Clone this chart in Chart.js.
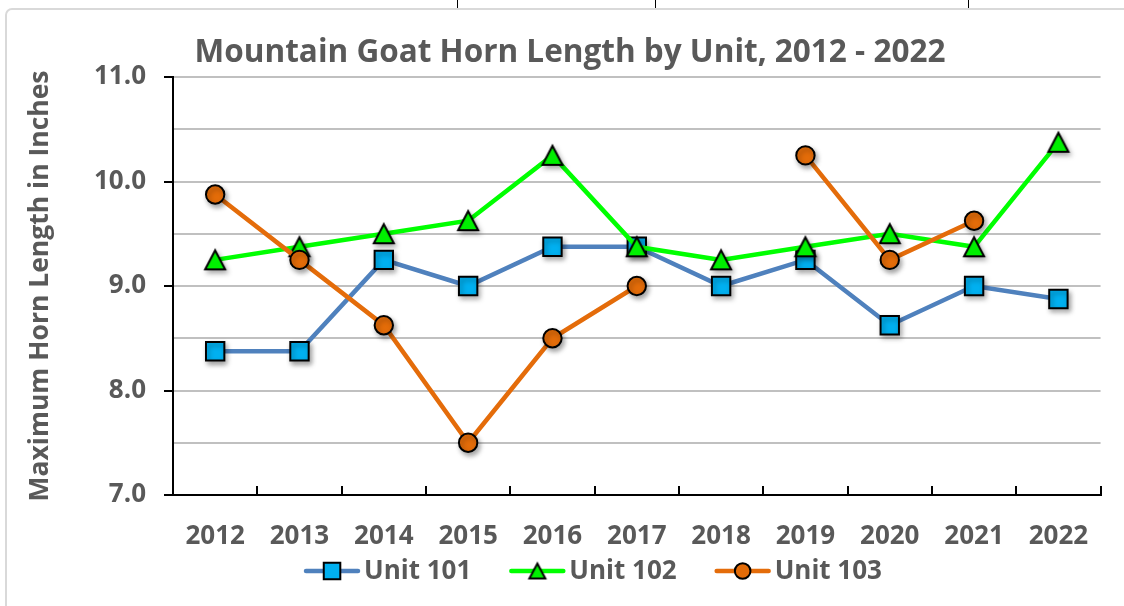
<!DOCTYPE html>
<html><head><meta charset="utf-8">
<script src="https://cdn.jsdelivr.net/npm/chart.js@4/dist/chart.umd.min.js"></script>
<style>html,body{margin:0;padding:0;background:#fff;overflow:hidden}</style>
</head><body>
<canvas id="c" width="1124" height="606"></canvas>
<script>
const chartTitle = 'Mountain Goat Horn Length by Unit, 2012 - 2022';
const yAxisTitle = 'Maximum Horn Length in Inches';
const years = ['2012','2013','2014','2015','2016','2017','2018','2019','2020','2021','2022'];
const seriesNames = ['Unit 101','Unit 102','Unit 103'];
const unit101 = [8.375, 8.375, 9.25, 9.0, 9.375, 9.375, 9.0, 9.25, 8.625, 9.0, 8.875];
const unit102 = [9.25, 9.375, 9.5, 9.625, 10.25, 9.375, 9.25, 9.375, 9.5, 9.375, 10.375];
const unit103 = [9.875, 9.25, 8.625, 7.5, 8.5, 9.0, null, 10.25, 9.25, 9.625, null];
const yMin = 7, yMax = 11, yStep = 0.5;

const FONT = '"Open Sans"';
const GREY = '#595959';

function triangleMarker(w, h, fill) {
  const c = document.createElement('canvas');
  c.width = Math.ceil(w + 4); c.height = Math.ceil(h + 4);
  const g = c.getContext('2d');
  const cx = c.width / 2, cy = c.height / 2;
  g.beginPath();
  g.moveTo(cx, cy - h / 2 + 1);
  g.lineTo(cx + w / 2 - 1, cy + h / 2 - 1);
  g.lineTo(cx - w / 2 + 1, cy + h / 2 - 1);
  g.closePath();
  g.fillStyle = fill; g.fill();
  g.lineJoin = 'miter'; g.lineWidth = 2; g.strokeStyle = '#000'; g.stroke();
  return c;
}
const triPlot = triangleMarker(22, 21, '#00F000');
const triLegend = triangleMarker(18, 17, '#00F000');

// drop shadow on markers only
const origPointDraw = Chart.PointElement.prototype.draw;
Chart.PointElement.prototype.draw = function(ctx, area) {
  ctx.save();
  ctx.shadowColor = 'rgba(0,0,0,0.35)';
  ctx.shadowBlur = 5;
  ctx.shadowOffsetX = 2;
  ctx.shadowOffsetY = 3;
  origPointDraw.call(this, ctx, area);
  ctx.restore();
};

const legendRadius = { rect: 11.7, circle: 7.8 };

const decor = {
  id: 'decor',
  beforeDraw(chart) {
    const ctx = chart.ctx;
    ctx.save();
    ctx.fillStyle = '#fff';
    ctx.fillRect(0, 0, chart.width, chart.height);
    ctx.strokeStyle = '#d9d9d9';
    ctx.lineWidth = 2;
    ctx.beginPath();
    if (ctx.roundRect) ctx.roundRect(6, 9, 1160, 640, 6); else ctx.rect(6, 9, 1160, 640);
    ctx.stroke();
    ctx.strokeStyle = '#000';
    ctx.lineWidth = 1;
    [457, 655, 968].forEach(x => { ctx.beginPath(); ctx.moveTo(x + 0.5, 0); ctx.lineTo(x + 0.5, 8); ctx.stroke(); });
    ctx.restore();
  },
  afterDraw(chart) {
    const ctx = chart.ctx;
    ctx.save();
    // title
    ctx.fillStyle = GREY;
    ctx.font = 'bold 31.5px ' + FONT;
    ctx.textAlign = 'center';
    ctx.textBaseline = 'alphabetic';
    ctx.fillText(chartTitle, 570, 62);
    // legend
    ctx.font = 'bold 26px ' + FONT;
    const lineLen = 56, gapText = 4, gapItem = 38;
    const widths = seriesNames.map(n => ctx.measureText(n).width);
    const total = widths.reduce((a, w) => a + lineLen + gapText + w, 0) + gapItem * (seriesNames.length - 1);
    let x = 593 - total / 2;
    const y = 571;
    chart.data.datasets.forEach((ds, i) => {
      ctx.strokeStyle = ds.borderColor;
      ctx.lineWidth = ds.borderWidth;
      ctx.lineCap = 'round';
      ctx.beginPath(); ctx.moveTo(x + 2, y); ctx.lineTo(x + lineLen - 2, y); ctx.stroke();
      ctx.fillStyle = ds.pointBackgroundColor;
      ctx.strokeStyle = ds.pointBorderColor;
      ctx.lineWidth = ds.pointBorderWidth;
      const style = ds.pointStyle === triPlot ? triLegend : ds.pointStyle;
      const r = legendRadius[ds.pointStyle] || 9;
      Chart.helpers.drawPoint(ctx, {pointStyle: style, rotation: 0, radius: r, borderWidth: ds.pointBorderWidth}, x + lineLen / 2, y);
      ctx.fillStyle = GREY;
      ctx.textAlign = 'left';
      ctx.textBaseline = 'middle';
      ctx.fillText(seriesNames[i], x + lineLen + gapText, y + 1);
      x += lineLen + gapText + widths[i] + gapItem;
    });
    ctx.restore();
  }
};

new Chart(document.getElementById('c'), {
  type: 'line',
  data: {
    labels: years,
    datasets: [
      { label: seriesNames[0], data: unit101, borderColor: '#4F81BD', borderWidth: 4.5,
        pointStyle: 'rect', pointRadius: 13, pointBackgroundColor: '#00B0F0', pointBorderColor: '#000', pointBorderWidth: 2, order: 3 },
      { label: seriesNames[1], data: unit102, borderColor: '#00FF00', borderWidth: 4.5,
        pointStyle: triPlot, pointRadius: 11, pointBackgroundColor: '#00F000', pointBorderColor: '#000', pointBorderWidth: 2, order: 2 },
      { label: seriesNames[2], data: unit103, borderColor: '#E46C0A', borderWidth: 4.5,
        pointStyle: 'circle', pointRadius: 9.2, pointBackgroundColor: '#E36C09', pointBorderColor: '#000', pointBorderWidth: 2, order: 1 }
    ]
  },
  options: {
    responsive: false,
    animation: false,
    devicePixelRatio: 1,
    spanGaps: false,
    layout: { padding: { left: 20, right: 19, top: 77, bottom: 30 } },
    plugins: { legend: { display: false }, title: { display: false }, tooltip: { enabled: false } },
    scales: {
      x: {
        type: 'category',
        offset: true,
        afterFit: s => { s.height = 606 - 30 - 495; },
        grid: { offset: true, drawOnChartArea: false, drawTicks: true, tickLength: -9, color: '#000', lineWidth: 2 },
        border: { display: true, color: '#000', width: 2 },
        ticks: { color: GREY, font: { family: FONT, size: 26, weight: 'bold' }, padding: 35, maxRotation: 0, autoSkip: false }
      },
      y: {
        min: yMin, max: yMax,
        afterFit: s => { s.width = 173 - 20; },
        grid: { color: '#c0c0c0', lineWidth: 2, tickLength: 9,
          tickColor: c => (c.tick && Number.isInteger(c.tick.value)) ? '#000' : 'rgba(0,0,0,0)' },
        border: { display: true, color: '#000', width: 2 },
        ticks: { stepSize: yStep, color: GREY, padding: 18, font: { family: FONT, size: 26, weight: 'bold' },
          callback: v => Number.isInteger(v) ? v.toFixed(1) : '' },
        title: { display: true, text: yAxisTitle, color: GREY, font: { family: FONT, size: 26.5, weight: 'bold' }, padding: { top: 5, bottom: 0 } }
      }
    }
  },
  plugins: [decor]
});
</script>
</body></html>
